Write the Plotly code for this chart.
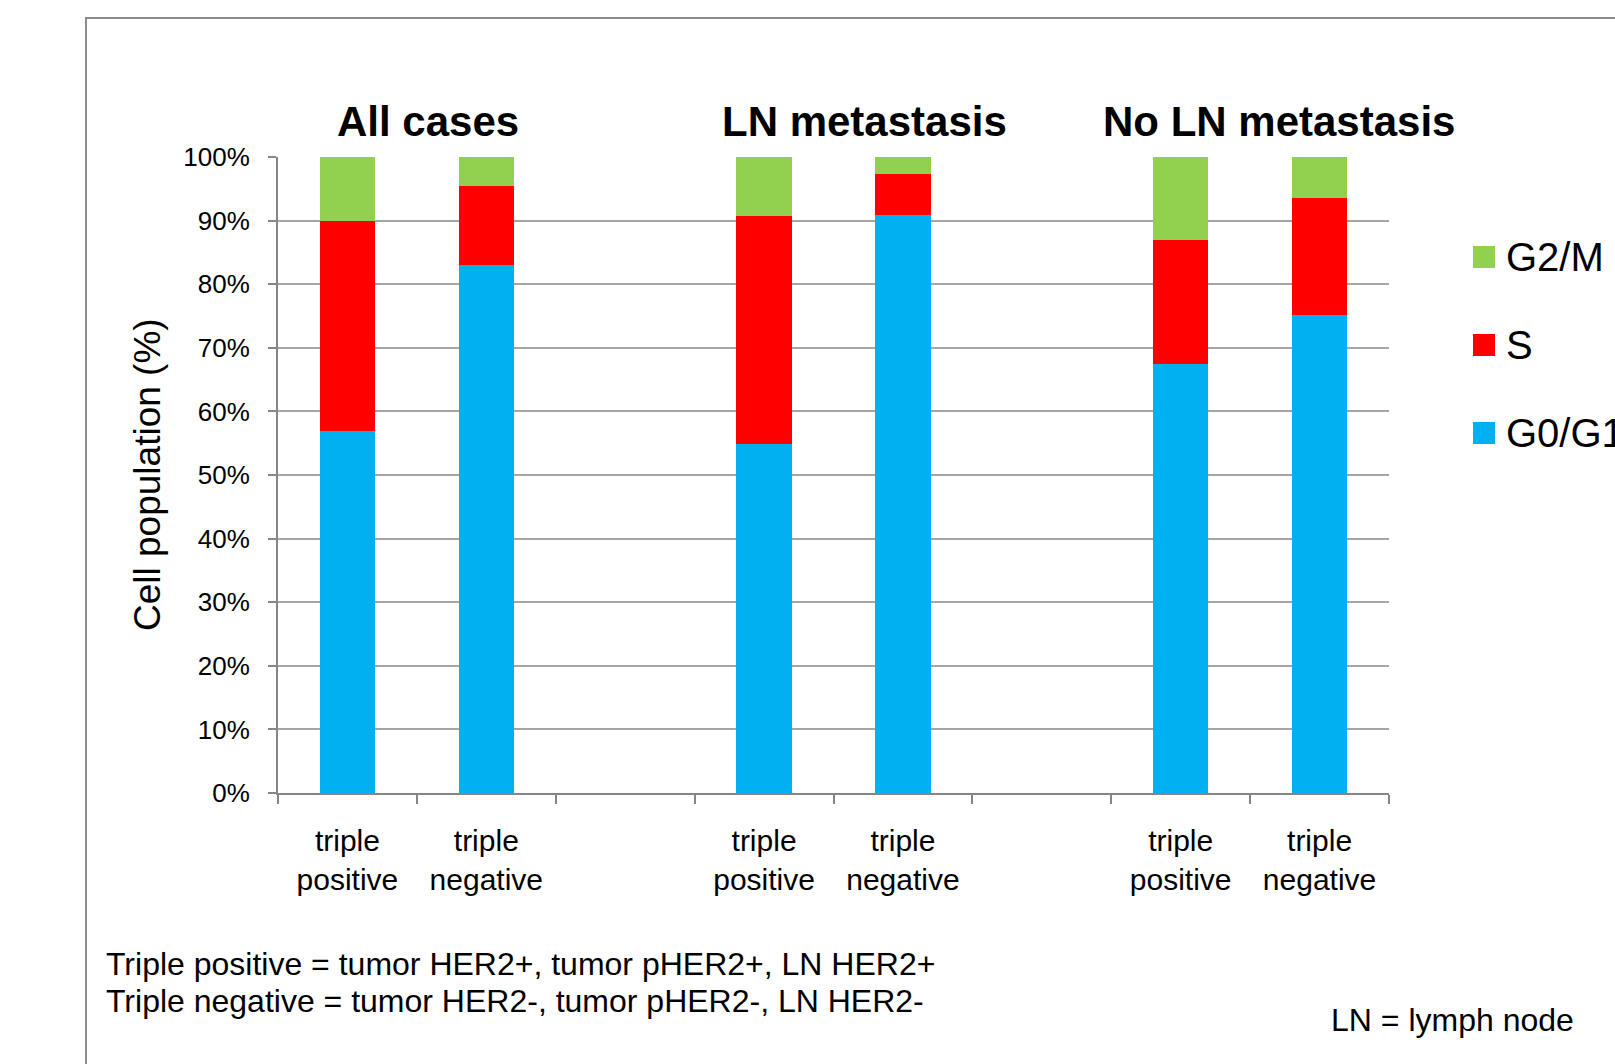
import plotly.graph_objects as go

# Cell-cycle phase distribution (percent of cells) per HER2 status group
groups = ["All cases", "LN metastasis", "No LN metastasis"]
subgroups = ["triple<br>positive", "triple<br>negative"]

g0g1 = [56.9, 83.0, 54.8, 90.9, 67.5, 75.1]
s_phase = [33.1, 12.4, 35.9, 6.4, 19.4, 18.5]
g2m = [10.0, 4.6, 9.3, 2.7, 13.1, 6.4]

y_ticks = [0, 10, 20, 30, 40, 50, 60, 70, 80, 90, 100]

phases = [("G0/G1", g0g1, "#00B0F0"), ("S", s_phase, "#FF0000"), ("G2/M", g2m, "#92D050")]

FONT = "Liberation Sans, Arial, sans-serif"
GRID = "#A6A6A6"
AXIS = "#868686"

# each group gets three slots: two bars plus an empty spacer (none after the last group)
x_pos = [g * 3 + k for g in range(len(groups)) for k in range(len(subgroups))]
x_text = [subgroups[k] for g in range(len(groups)) for k in range(len(subgroups))]
n_slots = 3 * len(groups) - 1

fig = go.Figure()
for name, vals, color in phases:
    fig.add_trace(go.Bar(
        x=x_pos, y=vals, name=name, width=0.4,
        marker=dict(color=color, line=dict(width=0)),
        showlegend=False,
    ))

W, H = 1615, 1064
L, R, T, B = 278, 226, 157, 271
pw, ph = W - L - R, H - T - B


def px_x(px):
    return (px - L) / pw


def px_y(py):
    return (H - B - py) / ph


annotations = []
# group headings
title_x = [0.58, 3.72, 6.71]
for name, xv in zip(groups, title_x):
    annotations.append(dict(
        x=xv, xref="x", y=px_y(121), yref="paper", text=f"<b>{name}</b>",
        showarrow=False, xanchor="center", yanchor="middle",
        font=dict(family=FONT, size=42, color="black"),
    ))

# y-axis title
annotations.append(dict(
    x=px_x(147), xref="paper", y=0.5, yref="paper", text="Cell population (%)",
    textangle=-90, showarrow=False, xanchor="center", yanchor="middle",
    font=dict(family=FONT, size=37, color="black"),
))

# footnotes
annotations.append(dict(
    x=px_x(104), xref="paper", y=px_y(964), yref="paper",
    text="Triple positive = tumor HER2+, tumor pHER2+, LN HER2+",
    showarrow=False, xanchor="left", yanchor="middle",
    font=dict(family=FONT, size=32, color="black"),
))
annotations.append(dict(
    x=px_x(104), xref="paper", y=px_y(1001), yref="paper",
    text="Triple negative = tumor HER2-, tumor pHER2-, LN HER2-",
    showarrow=False, xanchor="left", yanchor="middle",
    font=dict(family=FONT, size=32, color="black"),
))
annotations.append(dict(
    x=px_x(1329), xref="paper", y=px_y(1020), yref="paper",
    text="LN = lymph node",
    showarrow=False, xanchor="left", yanchor="middle",
    font=dict(family=FONT, size=32, color="black"),
))

shapes = []
# outer frame (runs past the right and bottom edges)
shapes.append(dict(
    type="rect", xref="paper", yref="paper",
    x0=px_x(86), x1=px_x(1700), y0=px_y(18), y1=px_y(1120),
    line=dict(color="#8C8C8C", width=2), fillcolor="rgba(0,0,0,0)", layer="below",
))

# legend: swatches and labels, top to bottom G2/M, S, G0/G1
legend_cy = [257, 345, 433]
for (name, _, color), cy in zip(reversed(phases), legend_cy):
    shapes.append(dict(
        type="rect", xref="paper", yref="paper",
        x0=px_x(1473), x1=px_x(1495), y0=px_y(cy - 11), y1=px_y(cy + 11),
        line=dict(width=0), fillcolor=color,
    ))
    annotations.append(dict(
        x=px_x(1504), xref="paper", y=px_y(cy), yref="paper", text=name,
        showarrow=False, xanchor="left", yanchor="middle",
        font=dict(family=FONT, size=40, color="black"),
    ))

fig.update_layout(
    width=W, height=H,
    margin=dict(l=L, r=R, t=T, b=B, pad=0),
    paper_bgcolor="white", plot_bgcolor="white",
    barmode="stack",
    showlegend=False,
    annotations=annotations,
    shapes=shapes,
    font=dict(family=FONT, color="black"),
)

fig.update_xaxes(
    range=[-0.5, n_slots - 0.5],
    tickmode="array", tickvals=x_pos, ticktext=x_text,
    ticks="", showgrid=False, zeroline=False,
    showline=True, linecolor=AXIS, linewidth=2,
    tickfont=dict(family=FONT, size=30, color="black"),
    ticklabelstandoff=20,
    minor=dict(
        tickmode="array",
        tickvals=[i - 0.5 for i in range(n_slots + 1)],
        ticks="outside", ticklen=9, tickwidth=2, tickcolor=AXIS, showgrid=False,
    ),
)

fig.update_yaxes(
    range=[0, 100],
    tickmode="array", tickvals=y_ticks, ticktext=[f"{v}%" for v in y_ticks],
    ticks="outside", ticklen=8, tickwidth=2, tickcolor=AXIS,
    showgrid=True, gridcolor=GRID, gridwidth=2,
    zeroline=False, showline=True, linecolor=AXIS, linewidth=2,
    tickfont=dict(family=FONT, size=26, color="black"),
    ticklabelstandoff=13,
)

fig.write_html("out.html")
